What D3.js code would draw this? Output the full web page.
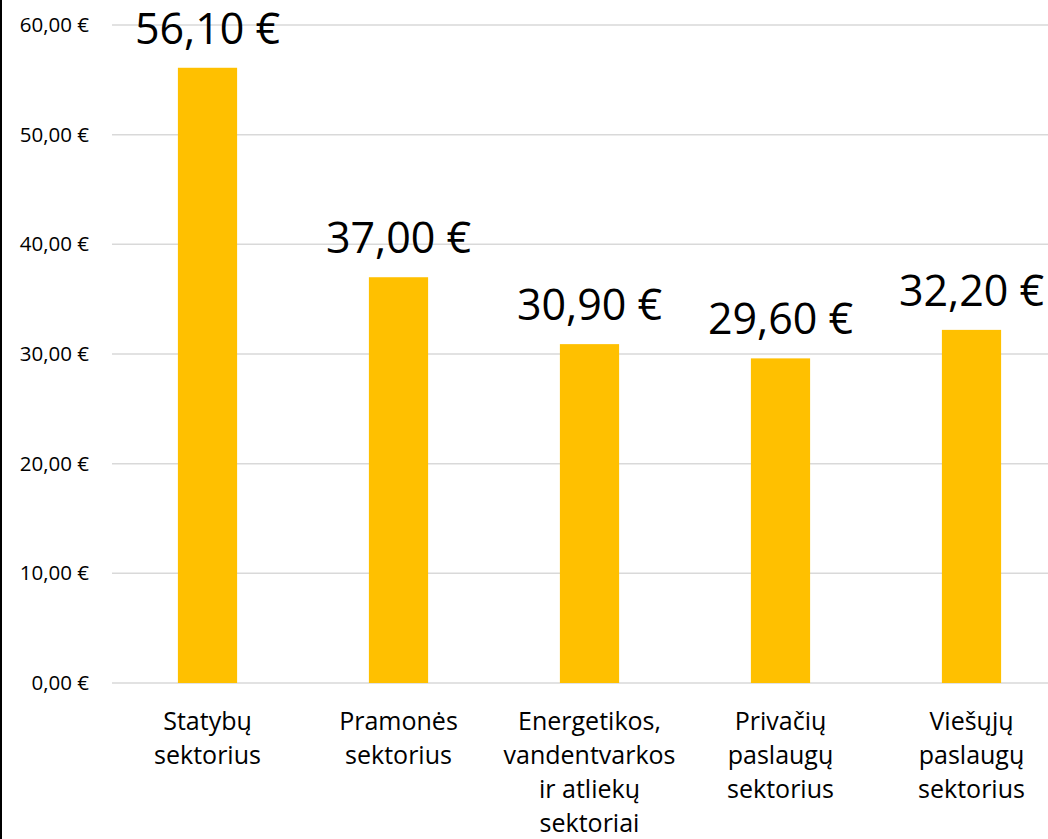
<!DOCTYPE html>
<html>
<head>
<meta charset="utf-8">
<script src="https://cdn.jsdelivr.net/npm/d3@7"></script>
<style>
  body { margin: 0; background: #fff; }
  svg { display: block; font-family: "Open Sans", "Noto Sans", sans-serif; }
</style>
</head>
<body>
<svg id="chart" width="1048" height="839"></svg>
<script>
const categories = [
  ["Statybų", "sektorius"],
  ["Pramonės", "sektorius"],
  ["Energetikos,", "vandentvarkos", "ir atliekų", "sektoriai"],
  ["Privačių", "paslaugų", "sektorius"],
  ["Viešųjų", "paslaugų", "sektorius"]
];
const values = [56.1, 37.0, 30.9, 29.6, 32.2];
const yTicks = [0, 10, 20, 30, 40, 50, 60];

const fmt = v => d3.format(".2f")(v).replace(".", ",") + " €";

const svg = d3.select("#chart");
const width = 1048, height = 839;

// --- Scales (plot area runs a bit past the right edge, as in the source)
const x = d3.scaleBand()
  .domain(d3.range(categories.length))
  .range([112, 1067])
  .paddingInner(0.69)
  .paddingOuter(0.345);

const y = d3.scaleLinear()
  .domain([0, 60])
  .range([683, 25]);

// --- Left frame line
svg.append("line")
  .attr("x1", 1).attr("x2", 1)
  .attr("y1", 0).attr("y2", height)
  .attr("stroke", "#000")
  .attr("stroke-width", 2);

// --- Gridlines
svg.selectAll(".grid")
  .data(yTicks)
  .enter()
  .append("line")
  .attr("class", "grid")
  .attr("x1", 112).attr("x2", width)
  .attr("y1", d => y(d)).attr("y2", d => y(d))
  .attr("stroke", "#d9d9d9")
  .attr("stroke-width", 1.5);

// --- Y axis labels
const yAxis = d3.axisLeft(y)
  .tickValues(yTicks)
  .tickFormat(fmt)
  .tickSize(0)
  .tickPadding(0);

svg.append("g")
  .attr("transform", "translate(89,0)")
  .call(yAxis)
  .call(g => g.select(".domain").remove())
  .call(g => g.selectAll("text")
    .style("font-family", "'Open Sans', 'Noto Sans', sans-serif")
    .style("font-size", "20.5px")
    .attr("fill", "#000"));

// --- Bars
svg.selectAll(".bar")
  .data(values)
  .enter()
  .append("rect")
  .attr("class", "bar")
  .attr("x", (d, i) => x(i))
  .attr("width", x.bandwidth())
  .attr("y", d => y(d))
  .attr("height", d => y(0) - y(d))
  .attr("fill", "#ffc000");

// --- Value labels
svg.selectAll(".value")
  .data(values)
  .enter()
  .append("text")
  .attr("class", "value")
  .attr("x", (d, i) => x(i) + x.bandwidth() / 2)
  .attr("y", d => y(d) - 24)
  .attr("text-anchor", "middle")
  .style("font-size", "43px")
  .attr("fill", "#000")
  .text(fmt);

// --- Category labels
const cat = svg.selectAll(".cat")
  .data(categories)
  .enter()
  .append("text")
  .attr("class", "cat")
  .attr("text-anchor", "middle")
  .style("font-size", "25px")
  .attr("fill", "#000");

cat.selectAll("tspan")
  .data((d, i) => d.map(line => ({ line, i })))
  .enter()
  .append("tspan")
  .attr("x", d => x(d.i) + x.bandwidth() / 2)
  .attr("y", (d, j) => 730 + j * 34)
  .text(d => d.line);
</script>
</body>
</html>
